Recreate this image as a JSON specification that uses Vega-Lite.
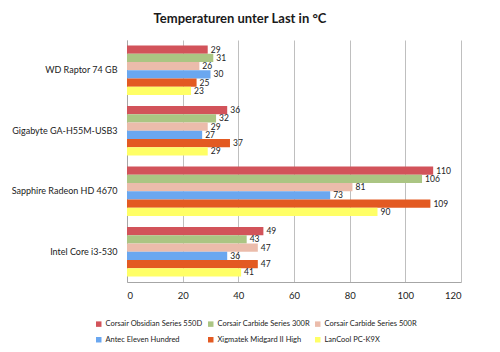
{
  "$schema": "https://vega.github.io/schema/vega-lite/v6.json",
  "width": 334,
  "height": 242,
  "autosize": "none",
  "padding": {"left": 127, "top": 40, "right": 39, "bottom": 70},
  "background": "white",
  "title": {"text": "Temperaturen unter Last in °C", "font": "Lato", "fontSize": 13, "fontWeight": "bold", "color": "#1a1a1a", "anchor": "middle", "offset": 14, "dx": -54},
  "data": {"values": [
    {"hw": "WD Raptor 74 GB", "case": "Corsair Obsidian Series 550D", "t": 29},
    {"hw": "WD Raptor 74 GB", "case": "Corsair Carbide Series 300R", "t": 31},
    {"hw": "WD Raptor 74 GB", "case": "Corsair Carbide Series 500R", "t": 26},
    {"hw": "WD Raptor 74 GB", "case": "Antec Eleven Hundred", "t": 30},
    {"hw": "WD Raptor 74 GB", "case": "Xigmatek Midgard II High", "t": 25},
    {"hw": "WD Raptor 74 GB", "case": "LanCool PC-K9X", "t": 23},
    {"hw": "Gigabyte GA-H55M-USB3", "case": "Corsair Obsidian Series 550D", "t": 36},
    {"hw": "Gigabyte GA-H55M-USB3", "case": "Corsair Carbide Series 300R", "t": 32},
    {"hw": "Gigabyte GA-H55M-USB3", "case": "Corsair Carbide Series 500R", "t": 29},
    {"hw": "Gigabyte GA-H55M-USB3", "case": "Antec Eleven Hundred", "t": 27},
    {"hw": "Gigabyte GA-H55M-USB3", "case": "Xigmatek Midgard II High", "t": 37},
    {"hw": "Gigabyte GA-H55M-USB3", "case": "LanCool PC-K9X", "t": 29},
    {"hw": "Sapphire Radeon HD 4670", "case": "Corsair Obsidian Series 550D", "t": 110},
    {"hw": "Sapphire Radeon HD 4670", "case": "Corsair Carbide Series 300R", "t": 106},
    {"hw": "Sapphire Radeon HD 4670", "case": "Corsair Carbide Series 500R", "t": 81},
    {"hw": "Sapphire Radeon HD 4670", "case": "Antec Eleven Hundred", "t": 73},
    {"hw": "Sapphire Radeon HD 4670", "case": "Xigmatek Midgard II High", "t": 109},
    {"hw": "Sapphire Radeon HD 4670", "case": "LanCool PC-K9X", "t": 90},
    {"hw": "Intel Core i3-530", "case": "Corsair Obsidian Series 550D", "t": 49},
    {"hw": "Intel Core i3-530", "case": "Corsair Carbide Series 300R", "t": 43},
    {"hw": "Intel Core i3-530", "case": "Corsair Carbide Series 500R", "t": 47},
    {"hw": "Intel Core i3-530", "case": "Antec Eleven Hundred", "t": 36},
    {"hw": "Intel Core i3-530", "case": "Xigmatek Midgard II High", "t": 47},
    {"hw": "Intel Core i3-530", "case": "LanCool PC-K9X", "t": 41}
  ]},
  "encoding": {
    "y": {"field": "hw", "type": "nominal", "sort": null, "title": null,
      "scale": {"paddingInner": 0.18, "paddingOuter": 0.09},
      "axis": {"labelFont": "Lato", "labelFontSize": 9, "labelColor": "#222", "labelPadding": 10, "ticks": false, "domainColor": "#a6a6a6", "labelLimit": 200}},
    "yOffset": {"field": "case", "type": "nominal", "sort": null},
    "x": {"field": "t", "type": "quantitative", "title": null,
      "scale": {"domain": [0, 120], "nice": false},
      "axis": {"values": [0, 20, 40, 60, 80, 100, 120], "labelFont": "Lato", "labelFontSize": 9.5, "labelColor": "#222", "labelPadding": 8, "ticks": false, "gridColor": "#bfbfbf", "domainColor": "#a6a6a6"}}
  },
  "layer": [
    {"mark": {"type": "bar"},
      "encoding": {
        "color": {"field": "case", "type": "nominal", "sort": null, "title": null,
          "scale": {"domain": ["Corsair Obsidian Series 550D", "Corsair Carbide Series 300R", "Corsair Carbide Series 500R", "Antec Eleven Hundred", "Xigmatek Midgard II High", "LanCool PC-K9X"],
            "range": ["#d2535a", "#abc583", "#ebbcab", "#6aa7f0", "#e35a22", "#ffff66"]},
          "legend": {"orient": "none", "legendX": -32, "legendY": 280, "direction": "horizontal", "columns": 3, "symbolType": "square", "symbolSize": 30, "labelFont": "Lato", "labelFontSize": 7.5, "labelColor": "#222", "columnPadding": 4, "rowPadding": 7, "gridAlign": "each", "symbolStrokeWidth": 0, "labelOffset": 3}}
      }},
    {"mark": {"type": "text", "align": "left", "dx": 3, "font": "Lato", "fontSize": 8.5, "color": "#222"},
      "encoding": {"text": {"field": "t", "type": "quantitative"}}}
  ],
  "config": {"view": {"stroke": null}}
}
